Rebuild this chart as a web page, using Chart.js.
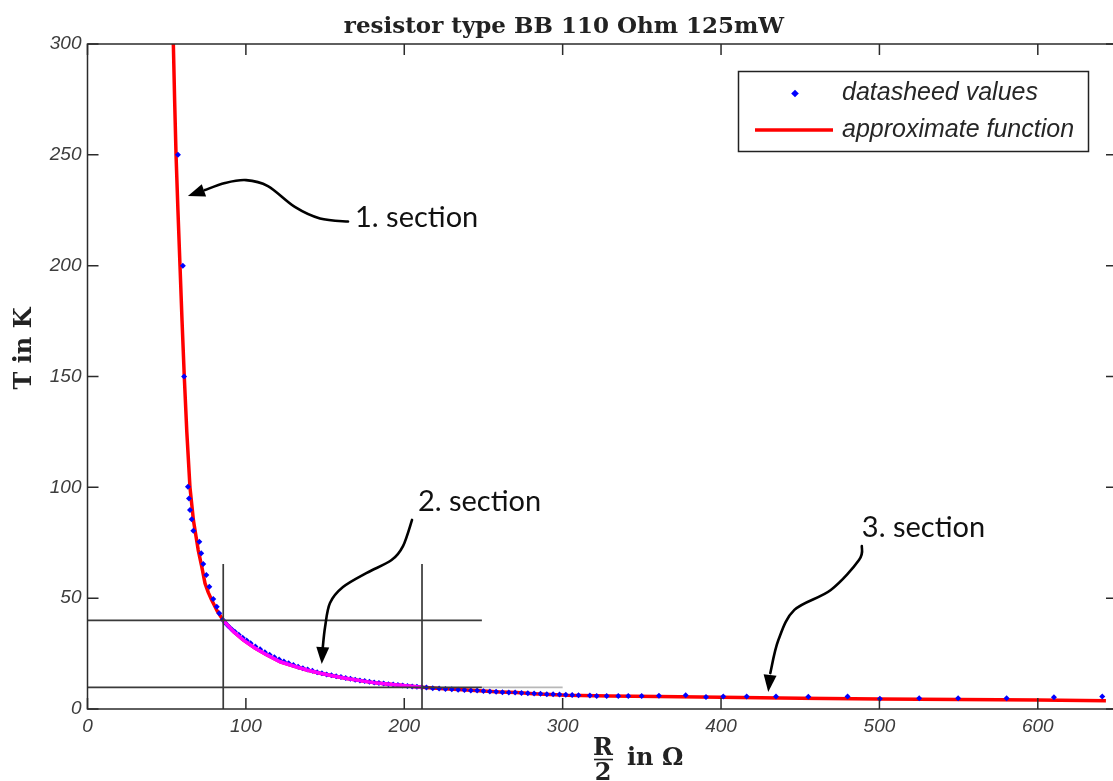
<!DOCTYPE html>
<html><head><meta charset="utf-8">
<script src="https://cdn.jsdelivr.net/npm/chart.js@4/dist/chart.umd.min.js"></script>
<style>
html,body{margin:0;padding:0;background:#fff;overflow:hidden;}
#wrap{position:relative;width:1125px;height:781px;}
</style></head><body>
<div id="wrap"><canvas id="c" width="1125" height="781"></canvas></div>
<script>
const chartTitle = 'resistor type BB 110 Ohm 125mW';
const yTitle = 'T in K';
const xTitleNum = 'R', xTitleDen = '2', xTitleUnit = 'in \u03A9';
const xTickValues = [0,100,200,300,400,500,600];
const yTickValues = [0,50,100,150,200,250,300];
const xRange = [0,650];
const yRange = [0,300];

// datasheet values (R/2 in Ohm, T in K)
const dsR = [57.1,60.2,61.0,63.4,64.1,64.7,65.8,66.8,70.6,71.8,73.1,75.0,76.9,79.4,81.6,83.2,85.4,
  87.0,89.0,91.0,93.0,95.5,98.0,100.5,103.0,106.0,109.0,112.0,115.0,118.0,121.0,124.0,127.0,130.0,133.0,136.0,139.0,142.0,145.0,148.0,151.0,154.0,157.0,160.0,163.0,166.0,169.0,172.0,175.0,178.0,181.0,184.0,187.0,190.0,193.0,196.0,199.0,202.0,205.0,208.0,211.0,
  214,218,222,226,230,234,238,242,246,250,254,258,262,266,270,274,278,282,286,290,294,298,302,306,310,
  317.2,321.5,327.8,335.1,341.4,349.9,360.8,377.7,390.5,401.4,416.2,434.7,455.1,479.9,500.3,525.1,549.7,580.3,610.2,640.7];
const dsT = [250,200,150,100.3,95.0,89.8,85.6,80.4,75.5,70.3,65.4,60.4,55.2,49.6,46.1,43.2,40.3,
  38.8,37.3,36.0,34.9,33.5,32.1,30.9,29.7,28.2,26.9,25.6,24.5,23.4,22.3,21.4,20.6,19.8,19.1,18.4,17.8,17.2,16.6,16.1,15.6,15.2,14.8,14.4,14.0,13.6,13.2,12.9,12.6,12.3,12.0,11.7,11.5,11.2,11.0,10.8,10.6,10.4,10.2,10.0,9.8,
  9.7,9.4,9.2,9.0,8.9,8.7,8.6,8.4,8.3,8.1,7.9,7.8,7.6,7.5,7.4,7.2,7.1,7.0,6.9,6.7,6.6,6.5,6.4,6.3,6.2,
  6.1,5.9,5.9,5.9,5.9,5.9,6.0,6.2,5.4,5.6,5.6,5.6,5.5,5.6,4.6,4.9,4.9,4.9,5.3,5.6];

// approximate function (red), all sections
const fitR = [54.2,55.0,55.9,57.1,58.4,59.7,61.1,62.7,64.7,66.9,69.9,72.2,74.2,76.3,78.4,81.9,85.7,
  92.2,98.5,105.9,113.3,121.6,130.1,138.5,146.9,155.3,163.8,172.2,180.6,189.0,197.4,205.8,211.2,
  222.7,231.1,239.5,250,260.5,271.1,281.6,292.1,302.6,330,360,400,450,500,550,600,643];
const fitT = [300,275,250,225,200,175,150,125,100,85,71.7,64,56.7,52.5,49.2,44.2,40,
  34.9,31.1,27.4,24.4,21.3,19.4,17.6,16.1,14.9,13.8,12.8,11.9,11.3,10.7,10.1,9.8,
  9.2,8.9,8.6,8.1,7.7,7.4,6.9,6.5,6.2,5.9,5.6,5.3,4.9,4.5,4.3,4.1,3.7];

// section 2 approximation (magenta)
const sec2R = [85.7,92.2,98.5,105.9,113.3,121.6,130.1,138.5,146.9,155.3,163.8,172.2,180.6,189.0,197.4,205.8,211.2];
const sec2T = [40,34.9,31.1,27.4,24.4,21.3,19.4,17.6,16.1,14.9,13.8,12.8,11.9,11.3,10.7,10.1,9.8];

// section boundary guide lines
const guideH1R = [0,249], guideH1T = [40,40];
const guideH2R = [0,249], guideH2T = [9.8,9.8];
const guideH2bR = [249,300], guideH2bT = [9.8,9.8];
const guideV1R = [85.7,85.7], guideV1T = [0,65.4];
const guideV2R = [211.2,211.2], guideV2T = [0,65.4];

// annotations (data coordinates)
const sectionLabels = ['1. section','2. section','3. section'];
const sectionLabelR = [168.9,208.6,488.9];
const sectionLabelT = [221.5,93.4,81.7];
const arrow1R = [164.5,146.8,130.9,113.9,100.1,86.8,74.1,63.4];
const arrow1T = [219.9,221.3,226.5,235.9,238.6,237.3,234.1,231.4];
const arrow2R = [204.9,199.2,192.0,176.3,161.3,153.1,150.0,148.5,147.9];
const arrow2T = [85.3,73.5,67.2,61.4,55.0,47.8,37.0,27.5,20.3];
const arrow3R = [488.9,487.1,469.3,446.3,436.2,431.1,429.8];
const arrow3T = [73.5,67.2,53.7,44.7,31.1,16.2,7.7];

const pts = (R,T) => R.map((r,i)=>({x:r,y:T[i]}));
const guide = (R,T,c) => ({label:'', data:pts(R,T), showLine:true, borderColor:c, borderWidth:1.7, pointRadius:0, tension:0});

function smoothPath(ctx, p){
  ctx.moveTo(p[0][0],p[0][1]);
  for(let i=0;i<p.length-1;i++){
    const p0=p[i-1]||p[i], p1=p[i], p2=p[i+1], p3=p[i+2]||p2;
    ctx.bezierCurveTo(p1[0]+(p2[0]-p0[0])/6, p1[1]+(p2[1]-p0[1])/6,
                      p2[0]-(p3[0]-p1[0])/6, p2[1]-(p3[1]-p1[1])/6, p2[0], p2[1]);
  }
}

const overlay = {
  id:'overlay',
  afterDatasetsDraw(chart){
    const {ctx, chartArea:a, scales:{x,y}} = chart;
    ctx.save();
    // axes box and inward ticks
    ctx.strokeStyle='#2b2b2b'; ctx.lineWidth=1.5;
    ctx.strokeRect(a.left, a.top, a.right-a.left, a.bottom-a.top);
    ctx.beginPath();
    xTickValues.forEach(v=>{const p=x.getPixelForValue(v);
      ctx.moveTo(p,a.bottom); ctx.lineTo(p,a.bottom-11); ctx.moveTo(p,a.top); ctx.lineTo(p,a.top+11);});
    yTickValues.forEach(v=>{const p=y.getPixelForValue(v);
      ctx.moveTo(a.left,p); ctx.lineTo(a.left+11,p); ctx.moveTo(a.right,p); ctx.lineTo(a.right-11,p);});
    ctx.stroke();

    // arrows
    ctx.strokeStyle='#000'; ctx.fillStyle='#000'; ctx.lineWidth=2.6; ctx.lineCap='round';
    [[arrow1R,arrow1T],[arrow2R,arrow2T],[arrow3R,arrow3T]].forEach(([R,T])=>{
      const p = R.map((r,i)=>[x.getPixelForValue(r), y.getPixelForValue(T[i])]);
      const tip = p[p.length-1], body = p.slice(0,-1), b = body[body.length-1];
      ctx.beginPath(); smoothPath(ctx, body); ctx.stroke();
      let dx=tip[0]-b[0], dy=tip[1]-b[1]; const L=Math.hypot(dx,dy); dx/=L; dy/=L;
      const len=17, hw=6.5, bx=tip[0]-dx*len, by=tip[1]-dy*len;
      ctx.beginPath(); ctx.moveTo(tip[0],tip[1]);
      ctx.lineTo(bx-dy*hw, by+dx*hw); ctx.lineTo(bx+dy*hw, by-dx*hw); ctx.closePath(); ctx.fill();
    });
    // section labels
    ctx.font='29px Lato, "Open Sans", sans-serif'; ctx.textBaseline='middle'; ctx.textAlign='left';
    ctx.fillStyle='#111';
    sectionLabels.forEach((s,i)=>ctx.fillText(s, x.getPixelForValue(sectionLabelR[i]), y.getPixelForValue(sectionLabelT[i])));

    // legend
    const ds = chart.data.datasets.filter(d=>d.inLegend);
    ctx.fillStyle='#fff'; ctx.fillRect(738.5,71.5,350,80);
    ctx.strokeStyle='#222'; ctx.lineWidth=1.5; ctx.strokeRect(738.5,71.5,350,80);
    ctx.font='italic 25px "Liberation Sans", Arial, sans-serif';
    ds.forEach((d,i)=>{
      const cy = 93.5 + i*36.5;
      if(d.showLine){ ctx.strokeStyle=d.borderColor; ctx.lineWidth=3.5; ctx.lineCap='butt';
        ctx.beginPath(); ctx.moveTo(755,cy); ctx.lineTo(833,cy); ctx.stroke(); }
      else { ctx.fillStyle=d.pointBackgroundColor; ctx.beginPath();
        ctx.moveTo(795,cy-3.8); ctx.lineTo(798.8,cy); ctx.lineTo(795,cy+3.8); ctx.lineTo(791.2,cy); ctx.closePath(); ctx.fill(); }
      ctx.fillStyle='#262626'; ctx.fillText(d.label, 842, cy);
    });

    // titles
    ctx.fillStyle='#222';
    ctx.font='bold 23px "DejaVu Serif", serif'; ctx.textAlign='center'; ctx.textBaseline='alphabetic';
    ctx.fillText(chartTitle, 564, 33);
    ctx.save(); ctx.translate(31, 348.5); ctx.rotate(-Math.PI/2);
    ctx.font='bold 24px "DejaVu Serif", serif'; ctx.fillText(yTitle, 0, 0); ctx.restore();
    ctx.font='bold 24px "DejaVu Serif", serif'; ctx.textAlign='center';
    ctx.fillText(xTitleNum, 603, 755);
    ctx.fillText(xTitleDen, 603, 780);
    ctx.lineWidth=1.6; ctx.strokeStyle='#222'; ctx.beginPath(); ctx.moveTo(594,759.5); ctx.lineTo(613,759.5); ctx.stroke();
    ctx.textAlign='left'; ctx.fillText(xTitleUnit, 627, 765);
    ctx.restore();
  }
};

const tickFont = {family:'"Liberation Sans", Arial, sans-serif', size:19, style:'italic'};
new Chart(document.getElementById('c'), {
  type:'scatter',
  data:{datasets:[
    guide(guideH1R,guideH1T,'#3a3a3a'),
    guide(guideH2R,guideH2T,'#3a3a3a'),
    guide(guideH2bR,guideH2bT,'#b8b8b8'),
    guide(guideV1R,guideV1T,'#3a3a3a'),
    guide(guideV2R,guideV2T,'#3a3a3a'),
    {label:'section 2', data:pts(sec2R,sec2T), showLine:true, borderColor:'#ff00ff', borderWidth:3.5, pointRadius:0, tension:0},
    {label:'datasheed values', inLegend:true, data:pts(dsR,dsT), showLine:false, pointStyle:'rectRot', pointRadius:3, pointBorderWidth:0, pointBackgroundColor:'#0000ff', borderColor:'#0000ff'},
    {label:'approximate function', inLegend:true, data:pts(fitR,fitT), showLine:true, borderColor:'#ff0000', borderWidth:3.5, pointRadius:0, tension:0, borderJoinStyle:'round'}
  ]},
  options:{
    responsive:false, animation:false, devicePixelRatio:1,
    layout:{padding:{left:0,right:8,top:44,bottom:0}},
    plugins:{legend:{display:false}, tooltip:{enabled:false}, title:{display:false}},
    scales:{
      x:{type:'linear', min:xRange[0], max:xRange[1],
        afterBuildTicks:s=>{s.ticks=xTickValues.map(v=>({value:v}));},
        afterFit:s=>{s.height=72;},
        grid:{display:false, drawTicks:false}, border:{display:false},
        ticks:{font:tickFont, color:'#3d3d3d', padding:6, maxRotation:0, autoSkip:false, callback:v=>String(v)}},
      y:{type:'linear', min:yRange[0], max:yRange[1],
        afterBuildTicks:s=>{s.ticks=yTickValues.map(v=>({value:v}));},
        afterFit:s=>{s.width=87.5;},
        grid:{display:false, drawTicks:false}, border:{display:false},
        ticks:{font:tickFont, color:'#3d3d3d', padding:6, autoSkip:false, callback:v=>String(v)}}
    }
  },
  plugins:[overlay]
});
</script>
</body></html>
